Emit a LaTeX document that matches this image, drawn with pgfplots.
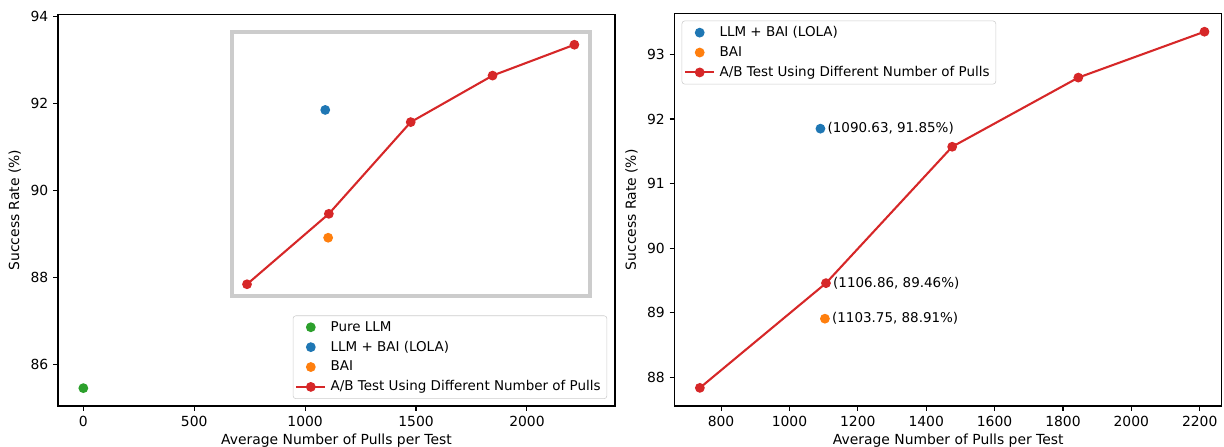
\documentclass[border=0pt]{standalone}
\usepackage{pgfplots}
\pgfplotsset{compat=1.18}
\usepackage{fontspec}
\setmainfont{DejaVu Sans}
\definecolor{tabblue}{HTML}{1F77B4}
\definecolor{taborange}{HTML}{FF7F0E}
\definecolor{tabgreen}{HTML}{2CA02C}
\definecolor{tabred}{HTML}{D62728}
\newcommand{\tenpt}{\fontsize{10pt}{12pt}\selectfont}
\newcommand{\legpt}{\fontsize{9.7pt}{12pt}\selectfont}
\pgfplotsset{
  mpl/.style={
    scale only axis,
    anchor=south west,
    axis line style={line width=0.8pt},
    tick align=outside,
    major tick length=3.5pt,
    every tick/.style={black, line width=0.8pt},
    xtick pos=bottom, ytick pos=left,
    /pgf/number format/assume math mode=true,
    /pgf/number format/set thousands separator={},
    ticklabel style={font=\tenpt},
    label style={font=\tenpt},
    xlabel style={yshift=1.5pt},
    legend cell align=left,
    legend style={font=\legpt, draw=black!20, rounded corners=2pt, fill=white,
      inner xsep=1.5pt, inner ysep=2.5pt, row sep=2.6pt, nodes={inner xsep=3pt, inner ysep=1.5pt}},
    legend image code/.code={\draw[mark repeat=2,mark phase=2] plot coordinates {(0cm,0cm) (0.37cm,0cm) (0.74cm,0cm)};},
    xlabel={Average Number of Pulls per Test},
    ylabel={Success Rate (\%)},
  },
  dot/.style={only marks, mark=*, mark size=3pt, color=#1, mark options={line width=1pt, draw=#1, fill=#1}},
  abline/.style={color=tabred, line width=1.5pt, mark=*, mark size=3pt, mark options={solid, line width=1pt, draw=tabred, fill=tabred}},
}
\pgfplotstableread{
x y
738 87.84
1106.86 89.46
1476 91.57
1845 92.64
2214 93.35
}\abdata
\begin{document}
\begin{tikzpicture}
\useasboundingbox (0,0) rectangle (881.3pt,321.8pt);
\begin{axis}[mpl, at={(41.8pt,29.5pt)}, width=401pt, height=282pt,
  xmin=-114, xmax=2397, ymin=85.04, ymax=94.05,
  xtick={0,500,1000,1500,2000}, ytick={86,88,90,92,94},
  legend style={at={(0.986,0.018)}, anchor=south east}]
\draw[line width=2.9pt, color=black!20] (axis cs:669,87.57) rectangle (axis cs:2283,93.64);
\addplot[dot=tabgreen] coordinates {(0,85.45)};
\addlegendentry{Pure LLM}
\addplot[dot=tabblue] coordinates {(1090.63,91.85)};
\addlegendentry{LLM + BAI (LOLA)}
\addplot[dot=taborange] coordinates {(1103.75,88.91)};
\addlegendentry{BAI}
\addplot[abline] table {\abdata};
\addlegendentry{A/B Test Using Different Number of Pulls}
\end{axis}
\begin{axis}[mpl, at={(485.7pt,29.5pt)}, width=394.1pt, height=282.5pt,
  xmin=664, xmax=2265, ymin=87.56, ymax=93.63,
  xtick={800,1000,...,2200}, ytick={88,89,90,91,92,93},
  legend style={at={(0.013,0.982)}, anchor=north west}]
\addplot[dot=tabblue] coordinates {(1090.63,91.85)};
\addlegendentry{LLM + BAI (LOLA)}
\addplot[dot=taborange] coordinates {(1103.75,88.91)};
\addlegendentry{BAI}
\addplot[abline] table {\abdata};
\addlegendentry{A/B Test Using Different Number of Pulls}
\node[anchor=west, inner sep=0pt, xshift=5pt, font=\legpt] at (axis cs:1090.63,91.85) {(1090.63, 91.85\%)};
\node[anchor=west, inner sep=0pt, xshift=5pt, font=\legpt] at (axis cs:1106.86,89.46) {(1106.86, 89.46\%)};
\node[anchor=west, inner sep=0pt, xshift=5pt, font=\legpt] at (axis cs:1103.75,88.91) {(1103.75, 88.91\%)};
\end{axis}
\end{tikzpicture}
\end{document}
